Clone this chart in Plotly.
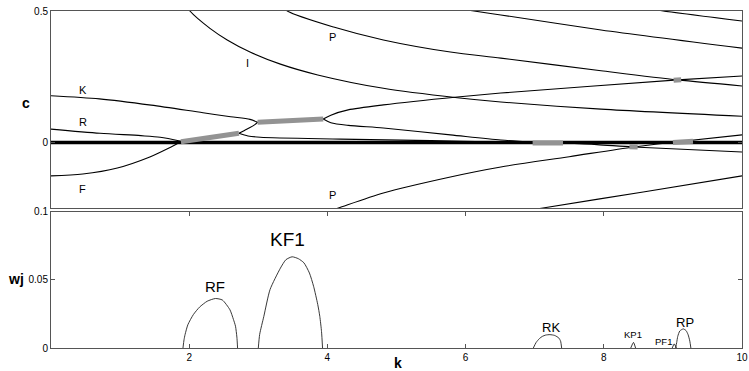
import plotly.graph_objects as go

# ---------------- top panel: phase speed c vs wavenumber k ----------------
k_I = [1.96, 2.01, 2.30, 2.55, 2.88, 3.32, 3.86, 4.81, 5.88, 6.51, 7.96, 10.0]
c_I = [0.52, 0.500, 0.434, 0.390, 0.344, 0.298, 0.257, 0.206, 0.170, 0.154, 0.127, 0.100]

k_Pu = [3.35, 3.42, 4.09, 4.81, 5.78, 6.51, 7.96, 9.07, 10.0]
c_Pu = [0.52, 0.500, 0.439, 0.390, 0.344, 0.321, 0.273, 0.238, 0.215]

k_B = [6.0, 6.12, 6.51, 7.96, 10.0]
c_B = [0.505, 0.500, 0.485, 0.428, 0.359]

k_C = [8.8, 8.86, 10.0]
c_C = [0.503, 0.500, 0.462]

k_K = [0.0, 0.7, 1.45, 2.2, 2.6, 2.88, 2.99]
c_K = [0.178, 0.166, 0.142, 0.113, 0.098, 0.088, 0.077]

k_R = [0.0, 0.71, 1.3, 1.58, 1.88]
c_R = [0.051, 0.035, 0.026, 0.020, 0.005]

k_F = [0.0, 0.46, 0.96, 1.43, 1.7, 1.88]
c_F = [-0.127, -0.120, -0.097, -0.055, -0.022, 0.003]

k_up1 = [2.72, 2.80, 2.88, 2.95, 2.99]
c_up1 = [0.035, 0.046, 0.057, 0.068, 0.077]

k_dn1 = [2.72, 2.85, 3.03, 4.19, 5.5, 6.51, 7.0]
c_dn1 = [0.035, 0.025, 0.020, 0.013, 0.007, 0.002, 0.0]

k_up2 = [3.94, 4.05, 4.3, 4.81, 5.88, 6.51, 9.07, 10.0]
c_up2 = [0.089, 0.104, 0.124, 0.143, 0.173, 0.188, 0.238, 0.253]

k_dn2 = [3.94, 4.05, 4.3, 4.81, 5.78, 6.51, 6.98]
c_dn2 = [0.089, 0.075, 0.065, 0.055, 0.029, 0.0095, 0.001]

k_Pl = [4.0, 4.16, 4.81, 5.78, 6.51, 7.5, 8.43, 8.97, 10.0]
c_Pl = [-0.263, -0.249, -0.192, -0.131, -0.093, -0.054, -0.017, 0.0, 0.029]

k_D = [7.41, 7.9, 8.43, 10.0]
c_D = [-0.002, -0.008, -0.017, -0.036]

k_L = [7.0, 7.12, 8.57, 10.0]
c_L = [-0.254, -0.249, -0.188, -0.127]

k_zero = [0.0, 10.0]
c_zero = [0.0, 0.0]

# unstable (complex) segments, drawn in grey
k_gRF = [1.88, 2.72]
c_gRF = [0.003, 0.035]
k_gKF = [2.99, 3.94]
c_gKF = [0.077, 0.089]
k_gRK = [6.97, 7.41]
c_gRK = [-0.002, -0.002]
k_gKP = [8.37, 8.49]
c_gKP = [-0.0165, -0.0175]
k_gRP = [9.0, 9.29]
c_gRP = [0.0, 0.005]
k_gPF = [9.01, 9.12]
c_gPF = [0.237, 0.239]

top_labels = ["K", "R", "F", "I", "P", "P"]
top_label_k = [0.46, 0.46, 0.46, 2.84, 4.07, 4.07]
top_label_c = [0.200, 0.077, -0.178, 0.302, 0.400, -0.200]

# ---------------- bottom panel: growth rate wj vs k ----------------
k_RF = [1.91, 1.925, 1.94, 1.98, 2.06, 2.15, 2.26, 2.38, 2.48, 2.59, 2.64, 2.67, 2.69, 2.70]
w_RF = [0.0, 0.006, 0.0098, 0.017, 0.0245, 0.030, 0.0343, 0.0363, 0.0352, 0.028, 0.021, 0.016, 0.008, 0.0]

k_KF1 = [3.0, 3.02, 3.08, 3.17, 3.32, 3.40, 3.49, 3.58, 3.66, 3.74, 3.80, 3.86, 3.89, 3.915, 3.93]
w_KF1 = [0.0, 0.010, 0.0232, 0.0429, 0.0586, 0.0648, 0.0669, 0.0655, 0.0625, 0.055, 0.0453, 0.032, 0.0232, 0.012, 0.0]

k_RK = [6.98, 7.02, 7.07, 7.11, 7.16, 7.22, 7.29, 7.35, 7.375, 7.39]
w_RK = [0.0, 0.004, 0.0070, 0.0085, 0.0095, 0.0098, 0.0092, 0.0073, 0.005, 0.0]

k_KP1 = [8.39, 8.43, 8.46]
w_KP1 = [0.0, 0.0041, 0.0]

k_PF1 = [8.99, 9.02, 9.05]
w_PF1 = [0.0, 0.003, 0.0]

k_RP = [9.04, 9.055, 9.07, 9.10, 9.15, 9.19, 9.22, 9.245, 9.26]
w_RP = [0.0, 0.004, 0.0085, 0.0125, 0.014, 0.0128, 0.0098, 0.005, 0.0]

bot_labels = ["RF", "KF1", "RK", "KP1", "PF1", "RP"]
bot_label_k = [2.38, 3.42, 7.23, 8.42, 8.87, 9.17]
bot_label_w = [0.045, 0.0796, 0.0149, 0.0097, 0.0046, 0.0186]
bot_label_size = [15, 19, 13, 9.5, 9.5, 13]

FONT = "Liberation Sans, Arial, sans-serif"
GREY = "#939393"

fig = go.Figure()

black_curves = [(k_I, c_I), (k_Pu, c_Pu), (k_B, c_B), (k_C, c_C), (k_K, c_K),
                (k_R, c_R), (k_F, c_F), (k_up1, c_up1), (k_dn1, c_dn1),
                (k_up2, c_up2), (k_dn2, c_dn2), (k_Pl, c_Pl), (k_D, c_D),
                (k_L, c_L)]
for kk, cc in black_curves:
    fig.add_trace(go.Scatter(x=kk, y=cc, mode="lines", xaxis="x2", yaxis="y2",
                             line=dict(color="black", width=1.1, shape="spline", smoothing=0.8),
                             showlegend=False, hoverinfo="skip"))

fig.add_trace(go.Scatter(x=k_zero, y=c_zero, mode="lines", xaxis="x2", yaxis="y2",
                         line=dict(color="black", width=3.5), showlegend=False, hoverinfo="skip"))

grey_segments = [(k_gRF, c_gRF), (k_gKF, c_gKF), (k_gRK, c_gRK),
                 (k_gKP, c_gKP), (k_gRP, c_gRP), (k_gPF, c_gPF)]
for kk, cc in grey_segments:
    fig.add_trace(go.Scatter(x=kk, y=cc, mode="lines", xaxis="x2", yaxis="y2",
                             line=dict(color=GREY, width=5),
                             showlegend=False, hoverinfo="skip"))

for kk, ww in [(k_RF, w_RF), (k_KF1, w_KF1), (k_RK, w_RK), (k_KP1, w_KP1),
               (k_PF1, w_PF1), (k_RP, w_RP)]:
    fig.add_trace(go.Scatter(x=kk, y=ww, mode="lines", xaxis="x", yaxis="y",
                             line=dict(color="#222222", width=0.9, shape="spline", smoothing=0.6),
                             showlegend=False, hoverinfo="skip"))

annotations = []
for t, kx, cy in zip(top_labels, top_label_k, top_label_c):
    annotations.append(dict(x=kx, y=cy, xref="x2", yref="y2", text=t, showarrow=False,
                            xanchor="center", yanchor="middle",
                            font=dict(family=FONT, size=11, color="black")))
for t, kx, wy, sz in zip(bot_labels, bot_label_k, bot_label_w, bot_label_size):
    annotations.append(dict(x=kx, y=wy, xref="x", yref="y", text=t, showarrow=False,
                            xanchor="center", yanchor="middle",
                            font=dict(family=FONT, size=sz, color="black")))
annotations += [
    dict(x=-0.0362, y=0.727, xref="paper", yref="paper", text="<b>c</b>", showarrow=False,
         xanchor="center", yanchor="middle",
         font=dict(family=FONT, size=14, color="black")),
    dict(x=-0.050, y=0.205, xref="paper", yref="paper", text="<b>wj</b>", showarrow=False,
         xanchor="center", yanchor="middle",
         font=dict(family=FONT, size=14, color="black")),
    dict(x=0.502, y=-0.0445, xref="paper", yref="paper", text="<b>k</b>", showarrow=False,
         xanchor="center", yanchor="middle",
         font=dict(family=FONT, size=14, color="black")),
]

AXC = "#555555"
tickfont = dict(family=FONT, size=10, color="black")

fig.update_layout(
    width=749, height=371,
    margin=dict(l=51, r=7, t=11, b=23),
    paper_bgcolor="white", plot_bgcolor="white",
    template="none",
    showlegend=False,
    annotations=annotations,
    xaxis=dict(domain=[0, 1], range=[0, 10], anchor="y",
               tickvals=[2, 4, 6, 8, 10], ticktext=["2", "4", "6", "8", "10"],
               ticks="inside", ticklen=4, tickcolor=AXC, mirror="ticks",
               showline=True, linecolor=AXC, linewidth=1,
               showgrid=False, zeroline=False, tickfont=tickfont),
    xaxis2=dict(domain=[0, 1], range=[0, 10], anchor="y2", matches="x",
                showticklabels=False, ticks="",
                showline=True, linecolor=AXC, linewidth=1, mirror=True,
                showgrid=False, zeroline=False),
    yaxis=dict(domain=[0, 0.4045], range=[0, 0.1], anchor="x",
               tickvals=[0, 0.05, 0.1], ticktext=["0", "0.05", "0.1"],
               ticks="inside", ticklen=4, tickcolor=AXC, mirror="ticks",
               showline=True, linecolor=AXC, linewidth=1,
               showgrid=False, zeroline=False, tickfont=tickfont),
    yaxis2=dict(domain=[0.4147, 1], range=[-0.25, 0.5], anchor="x2",
                tickvals=[0, 0.5], ticktext=["0", "0.5"],
                ticks="inside", ticklen=4, tickcolor=AXC, mirror="ticks",
                showline=True, linecolor=AXC, linewidth=1,
                showgrid=False, zeroline=False, tickfont=tickfont),
)

fig.write_html("out.html")
